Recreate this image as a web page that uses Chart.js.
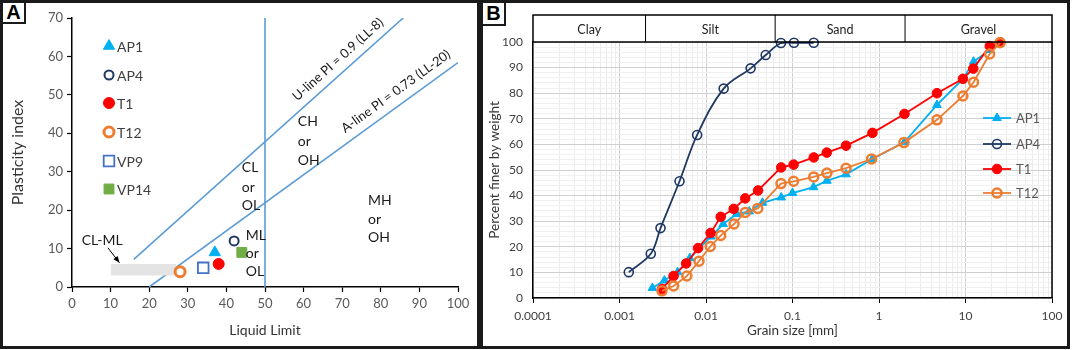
<!DOCTYPE html>
<html lang="en">
<head>
<meta charset="UTF-8">
<script src="https://cdn.jsdelivr.net/npm/chart.js"></script>
<title>Plasticity and grain size</title>
<style>
  body { margin: 0; background: #fff; }
  #wrap { position: relative; width: 1072px; height: 350px; overflow: hidden; background: #fff; }
  #cA { position: absolute; left: 0; top: 0; }
  #cB { position: absolute; left: 479px; top: 0; }
  .panel { position: absolute; border: 3px solid #1a1a1a; box-sizing: border-box; pointer-events: none; }
  #panelA { left: 0; top: 0; width: 480px; height: 349px; }
  #panelB { left: 480px; top: 0; width: 590px; height: 349px; }
  .tag { position: absolute; background: #fff; border: 2px solid #1a1a1a; box-sizing: border-box;
         font: bold 20px 'Liberation Sans', Arial, sans-serif; text-align: center; line-height: 19px; color: #000; }
  #tagA { left: 1px; top: 1px; width: 25px; height: 23px; }
  #tagB { left: 481px; top: 1px; width: 25px; height: 25px; line-height: 21px; }
</style>
</head>
<body>
<div id="wrap">
  <canvas id="cA" width="479" height="350"></canvas>
  <canvas id="cB" width="593" height="350"></canvas>
  <div class="panel" id="panelA"></div>
  <div class="panel" id="panelB"></div>
  <div class="tag" id="tagA">A</div>
  <div class="tag" id="tagB">B</div>
</div>

<script>
// ---------- panel A : plasticity chart ----------
const samples = ['AP1', 'AP4', 'T1', 'T12', 'VP9', 'VP14'];
const liquidLimit = [37, 42, 38, 28, 34, 44];
const plasticityIndex = [9, 12, 6, 4, 5, 9];

const uLineLL = [16, 85.8];
const uLinePI = [7.2, 70];
const aLineLL = [20, 100];
const aLinePI = [0, 58.4];
const divideLL = [50, 50];
const dividePI = [0, 70];
const clmlLL = [10, 27];
const clmlPI = [3, 6];

// ---------- panel B : grain size distribution ----------
const ap1Size  = [0.0024, 0.0033, 0.0047, 0.0065, 0.0114, 0.0158, 0.0226, 0.0316, 0.045, 0.074, 0.1, 0.175, 0.25, 0.416, 0.84, 1.97, 4.68, 9.34, 12.4, 19.1, 25.1];
const ap1Finer = [3.9, 6.8, 10.1, 15.6, 24.0, 28.9, 32.8, 33.8, 37.2, 39.3, 41.0, 43.3, 45.8, 48.3, 54.3, 60.9, 75.4, 85.6, 92.3, 96.9, 99.7];
const ap4Size  = [0.00128, 0.0023, 0.00298, 0.00494, 0.0079, 0.016, 0.0328, 0.049, 0.0736, 0.104, 0.176];
const ap4Finer = [10.1, 17.3, 27.3, 45.6, 63.7, 81.8, 89.7, 94.9, 99.6, 99.7, 99.7];
const t1Size   = [0.0031, 0.00422, 0.0059, 0.0081, 0.0113, 0.0148, 0.0209, 0.0284, 0.040, 0.074, 0.103, 0.176, 0.249, 0.416, 0.84, 1.97, 4.68, 9.34, 12.3, 19.1, 25.1];
const t1Finer  = [3.5, 8.6, 13.5, 19.5, 25.4, 31.7, 34.8, 38.9, 42.0, 51.0, 52.1, 54.9, 56.8, 59.5, 64.5, 71.9, 80.0, 85.6, 89.6, 98.4, 99.9];
const t12Size  = [0.0031, 0.00422, 0.0060, 0.0083, 0.0112, 0.0148, 0.0211, 0.0284, 0.0396, 0.0736, 0.103, 0.176, 0.25, 0.416, 0.82, 1.94, 4.68, 9.34, 12.4, 19.0, 25.1];
const t12Finer = [2.8, 4.7, 8.6, 14.4, 20.1, 24.4, 28.9, 33.4, 35.0, 44.7, 45.6, 47.3, 48.8, 50.7, 54.3, 60.7, 69.6, 78.9, 84.3, 95.3, 99.7];

const bandEdges = [0.0001, 0.002, 0.063, 2, 100];
const bandNames = ['Clay', 'Silt', 'Sand', 'Gravel'];
const sizeTickLabels = ['0.0001', '0.001', '0.01', '0.1', '1', '10', '100'];

Chart.defaults.font.family = "Lato, 'Open Sans', sans-serif";
Chart.defaults.animation = false;

function pts(xs, ys) {
  return xs.map((x, i) => ({ x: x, y: ys[i] }));
}

// marker looks for panel A
const markA = {
  AP1:  { pointStyle: 'triangle', radius: 6.5, bg: '#00b0f0', border: '#00b0f0', bw: 1 },
  AP4:  { pointStyle: 'circle', radius: 4.5, bg: 'rgba(0,0,0,0)', border: '#1f3864', bw: 2 },
  T1:   { pointStyle: 'circle', radius: 5.5, bg: '#ff0000', border: '#ff0000', bw: 1 },
  T12:  { pointStyle: 'circle', radius: 5, bg: 'rgba(0,0,0,0)', border: '#ed7d31', bw: 3 },
  VP9:  { pointStyle: 'rect', radius: 7.5, bg: 'rgba(0,0,0,0)', border: '#4472c4', bw: 1.8 },
  VP14: { pointStyle: 'rect', radius: 7, bg: '#70ad47', border: '#70ad47', bw: 1 }
};

function refLine(xs, ys) {
  return {
    type: 'line', data: pts(xs, ys), borderColor: '#5b9bd5', borderWidth: 1.6,
    pointRadius: 0, fill: false, tension: 0
  };
}

const dsA = [];
samples.forEach((s, i) => {
  const m = markA[s];
  dsA.push({
    label: s, data: [{ x: liquidLimit[i], y: plasticityIndex[i] }],
    pointStyle: m.pointStyle, pointRadius: m.radius, pointBackgroundColor: m.bg,
    pointBorderColor: m.border, pointBorderWidth: m.bw, showLine: false
  });
});
dsA.push({
  type: 'line', label: 'CL-ML', data: [{ x: clmlLL[0], y: clmlPI[1] }, { x: clmlLL[1], y: clmlPI[1] }],
  fill: { value: clmlPI[0] }, backgroundColor: '#e4e4e4', borderWidth: 0, borderColor: 'rgba(0,0,0,0)', pointRadius: 0
});
dsA.push(refLine(uLineLL, uLinePI));
dsA.push(refLine(aLineLL, aLinePI));
dsA.push(refLine(divideLL, dividePI));

// zone names, written in LL / PI units
const zoneText = [
  { lines: ['CH', 'or', 'OH'], ll: 58.5, pi: [43.0, 37.8, 32.9] },
  { lines: ['CL', 'or', 'OL'], ll: 44.0, pi: [31.1, 25.9, 21.2] },
  { lines: ['MH', 'or', 'OH'], ll: 76.7, pi: [22.5, 17.5, 12.8] },
  { lines: ['ML', 'or', 'OL'], ll: 45.0, pi: [13.4, 8.7, 4.0] }
];

const notesA = {
  id: 'notesA',
  afterDatasetsDraw(chart) {
    const c = chart.ctx, x = chart.scales.x, y = chart.scales.y;
    c.save();
    c.fillStyle = '#1a1a1a';
    c.font = "14px Lato, sans-serif";
    c.textBaseline = 'middle';
    c.textAlign = 'left';
    zoneText.forEach(z => {
      z.lines.forEach((t, k) => c.fillText(t, x.getPixelForValue(z.ll), y.getPixelForValue(z.pi[k])));
    });

    // labels along the U and A lines
    function along(text, ll, pi, xs, ys) {
      const ang = Math.atan2(y.getPixelForValue(ys[1]) - y.getPixelForValue(ys[0]),
                             x.getPixelForValue(xs[1]) - x.getPixelForValue(xs[0]));
      c.save();
      c.translate(x.getPixelForValue(ll), y.getPixelForValue(pi));
      c.rotate(ang);
      c.textAlign = 'center';
      c.font = "13px Lato, sans-serif";
      c.fillText(text, 0, 0);
      c.restore();
    }
    along('U-line PI = 0.9 (LL-8)', 68.9, 59.2, uLineLL, uLinePI);
    along('A-line PI = 0.73 (LL-20)', 83.9, 50.9, aLineLL, aLinePI);

    // CL-ML callout with arrow
    c.textAlign = 'center';
    c.font = "14px Lato, sans-serif";
    c.fillText('CL-ML', x.getPixelForValue(7.8), y.getPixelForValue(12.1));
    const x0 = x.getPixelForValue(9.3), y0 = y.getPixelForValue(10.2);
    const x1 = x.getPixelForValue(12.3), y1 = y.getPixelForValue(6.3);
    c.strokeStyle = '#000';
    c.lineWidth = 1;
    c.beginPath(); c.moveTo(x0, y0); c.lineTo(x1, y1); c.stroke();
    const a = Math.atan2(y1 - y0, x1 - x0);
    c.beginPath();
    c.moveTo(x1, y1);
    c.lineTo(x1 - 7 * Math.cos(a - 0.4), y1 - 7 * Math.sin(a - 0.4));
    c.lineTo(x1 - 7 * Math.cos(a + 0.4), y1 - 7 * Math.sin(a + 0.4));
    c.closePath(); c.fillStyle = '#000'; c.fill();

    // legend
    const rows = [46, 75, 103, 132, 161, 189];
    c.textAlign = 'left';
    c.font = "14px Lato, sans-serif";
    samples.forEach((s, i) => {
      const m = markA[s];
      c.fillStyle = m.bg; c.strokeStyle = m.border; c.lineWidth = m.bw;
      Chart.helpers.drawPoint(c, { pointStyle: m.pointStyle, radius: m.radius, borderWidth: m.bw, rotation: 0 }, 109, rows[i]);
      c.fillStyle = '#404040';
      c.fillText(s, 117, rows[i] + 1);
    });
    c.restore();
  }
};

new Chart(document.getElementById('cA'), {
  type: 'scatter',
  data: { datasets: dsA },
  options: {
    responsive: false,
    layout: { padding: { top: 18, right: 21, left: 0, bottom: 0 } },
    plugins: { legend: { display: false }, tooltip: { enabled: false } },
    scales: {
      x: {
        type: 'linear', min: 0, max: 100,
        ticks: { stepSize: 10, color: '#595959', font: { size: 13 }, padding: 4 },
        grid: { drawOnChartArea: false, tickLength: 5, tickColor: '#000', tickWidth: 1.2 },
        border: { color: '#000', width: 1.5 },
        title: { display: true, text: 'Liquid Limit', color: '#333', font: { size: 14 }, padding: { top: 0, bottom: 11 } },
        afterFit: s => { s.height = 63; }
      },
      y: {
        min: 0, max: 70,
        ticks: { stepSize: 10, color: '#595959', font: { size: 13 }, padding: 4 },
        grid: { drawOnChartArea: false, tickLength: 5, tickColor: '#000', tickWidth: 1.2 },
        border: { color: '#000', width: 1.5 },
        title: { display: true, text: 'Plasticity index', color: '#333', font: { size: 16 }, padding: { top: 8, bottom: 0 } },
        afterFit: s => { s.width = 72; }
      }
    }
  },
  plugins: [notesA]
});

// ---------- panel B ----------
const seriesB = [
  { label: 'AP1', xs: ap1Size, ys: ap1Finer, color: '#00b0f0', style: 'triangle', r: 5, fill: '#00b0f0', bw: 1, tension: 0, order: 2 },
  { label: 'AP4', xs: ap4Size, ys: ap4Finer, color: '#1f3864', style: 'circle', r: 4.5, fill: 'rgba(0,0,0,0)', bw: 1.6, tension: 0.35, order: 3 },
  { label: 'T1', xs: t1Size, ys: t1Finer, color: '#ff0000', style: 'circle', r: 4.8, fill: '#ff0000', bw: 1, tension: 0, order: 1 },
  { label: 'T12', xs: t12Size, ys: t12Finer, color: '#ed7d31', style: 'circle', r: 4.5, fill: 'rgba(0,0,0,0)', bw: 2.5, tension: 0, order: 0 }
];

const dsB = seriesB.map(s => ({
  label: s.label, data: pts(s.xs, s.ys), borderColor: s.color, borderWidth: 1.8,
  pointStyle: s.style, pointRadius: s.r, pointBackgroundColor: s.fill, pointBorderColor: s.color,
  pointBorderWidth: s.bw, tension: s.tension, fill: false, clip: false, order: s.order
}));

// gridline positions on the log axis: 1..9 of each decade
const sizeGrid = [];
for (let e = -4; e <= 1; e++) {
  for (let m = 1; m <= 9; m++) sizeGrid.push(parseFloat((m * Math.pow(10, e)).toPrecision(6)));
}
sizeGrid.push(100);

function isDecade(v) {
  const l = Math.log10(v);
  return Math.abs(l - Math.round(l)) < 1e-6;
}

const decorB = {
  id: 'decorB',
  afterDraw(chart) {
    const c = chart.ctx, x = chart.scales.x, a = chart.chartArea;
    c.save();
    const top = 15, bot = a.top;
    c.strokeStyle = '#000';
    c.lineWidth = 1.5;
    c.strokeRect(a.left, top, a.right - a.left, bot - top);
    c.beginPath(); c.moveTo(a.right, a.top); c.lineTo(a.right, a.bottom); c.stroke();
    c.fillStyle = '#222';
    c.font = "12.5px Lato, sans-serif";
    c.textAlign = 'center';
    c.textBaseline = 'middle';
    for (let i = 0; i < bandNames.length; i++) {
      const p0 = x.getPixelForValue(bandEdges[i]), p1 = x.getPixelForValue(bandEdges[i + 1]);
      if (i > 0) { c.beginPath(); c.moveTo(p0, top); c.lineTo(p0, bot); c.lineWidth = 1; c.stroke(); }
      c.fillText(bandNames[i], (p0 + p1) / 2, (top + bot) / 2 + 1);
    }

    // legend inside plot
    const rows = [118, 144, 169, 193];
    c.textAlign = 'left';
    c.font = "13px Lato, sans-serif";
    seriesB.forEach((s, i) => {
      c.strokeStyle = s.color; c.lineWidth = 1.8;
      c.beginPath(); c.moveTo(504, rows[i]); c.lineTo(532, rows[i]); c.stroke();
      c.fillStyle = s.fill; c.lineWidth = s.bw;
      Chart.helpers.drawPoint(c, { pointStyle: s.style, radius: s.r, borderWidth: s.bw, rotation: 0 }, 518, rows[i]);
      c.fillStyle = '#595959';
      c.fillText(s.label, 537, rows[i] + 1);
    });
    c.restore();
  }
};

new Chart(document.getElementById('cB'), {
  type: 'line',
  data: { datasets: dsB },
  options: {
    responsive: false,
    layout: { padding: { top: 42, right: 20, left: 0, bottom: 0 } },
    plugins: { legend: { display: false }, tooltip: { enabled: false } },
    scales: {
      x: {
        type: 'logarithmic', min: 0.0001, max: 100,
        afterBuildTicks: s => { s.ticks = sizeGrid.map(v => ({ value: v, major: isDecade(v) })); },
        ticks: {
          autoSkip: false, maxRotation: 0, color: '#404040', font: { size: 12 }, padding: 6,
          callback: v => isDecade(v) ? sizeTickLabels[Math.round(Math.log10(v)) + 4] : ''
        },
        grid: {
          color: c => (c.tick && isDecade(c.tick.value)) ? '#d0d0d0' : '#ececec',
          tickColor: c => (c.tick && isDecade(c.tick.value)) ? '#000' : 'rgba(0,0,0,0)',
          tickLength: 5
        },
        border: { color: '#000', width: 1.5 },
        title: { display: true, text: 'Grain size [mm]', color: '#333', font: { size: 13.5 }, padding: { top: 0, bottom: 11 } },
        afterFit: s => { s.height = 52; }
      },
      y: {
        min: 0, max: 100,
        ticks: { stepSize: 2, autoSkip: false, color: '#404040', font: { size: 12 }, padding: 10,
                 callback: v => (v % 10 === 0) ? v : '' },
        grid: { color: c => (c.tick && c.tick.value % 10 === 0) ? '#d0d0d0' : '#f0f0f0', drawTicks: false },
        border: { color: '#000', width: 1.5 },
        title: { display: true, text: 'Percent finer by weight', color: '#333', font: { size: 13.5 }, padding: { top: 8, bottom: 0 } },
        afterFit: s => { s.width = 54; }
      }
    }
  },
  plugins: [decorB]
});
</script>
</body>
</html>
